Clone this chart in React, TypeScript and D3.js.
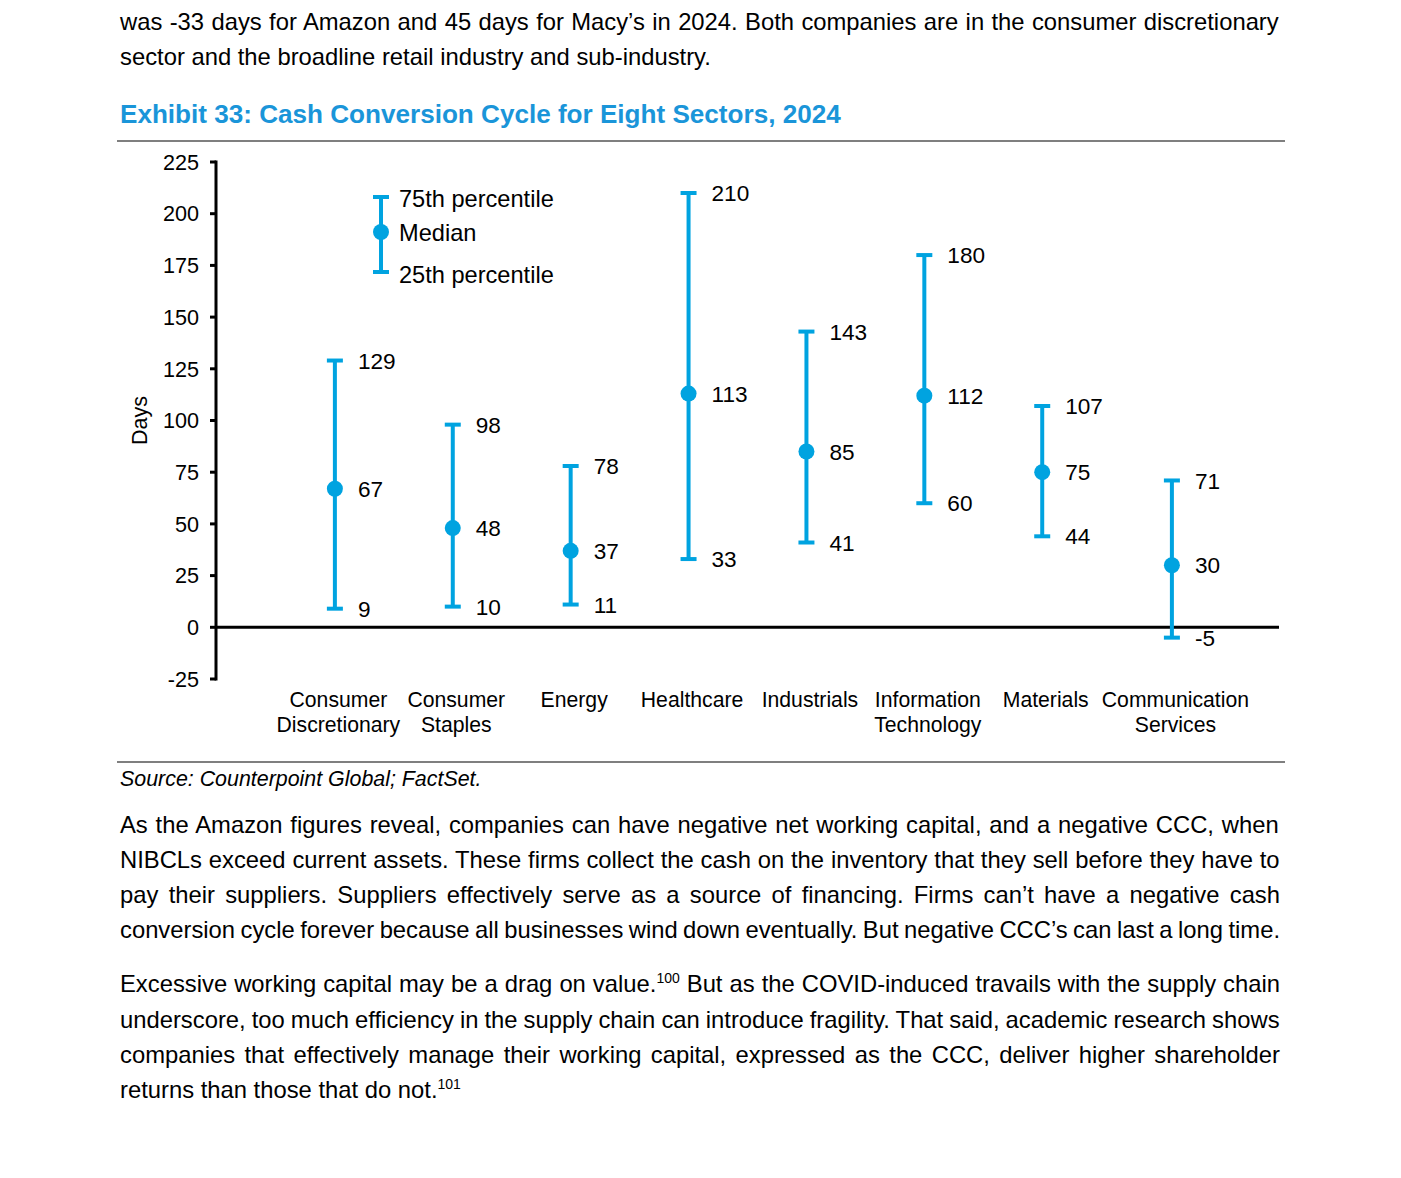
import React from "react";
import * as d3 from "d3";

const categories = [
  ["Consumer", "Discretionary"],
  ["Consumer", "Staples"],
  ["Energy"],
  ["Healthcare"],
  ["Industrials"],
  ["Information", "Technology"],
  ["Materials"],
  ["Communication", "Services"],
];
const xPositions = [1, 2, 3, 4, 5, 6, 7, 8.1];
const p75 = [129, 98, 78, 210, 143, 180, 107, 71];
const median = [67, 48, 37, 113, 85, 112, 75, 30];
const p25 = [9, 10, 11, 33, 41, 60, 44, -5];
const yTicks = [-25, 0, 25, 50, 75, 100, 125, 150, 175, 200, 225];

type Seg = { t: string; sup?: boolean };
type Line = { segs: Seg[]; y: number; justify: boolean };

const bodyLines: Line[] = [
  { segs: [{ t: "was -33 days for Amazon and 45 days for Macy’s in 2024. Both companies are in the consumer discretionary" }], y: 30, justify: true },
  { segs: [{ t: "sector and the broadline retail industry and sub-industry." }], y: 65, justify: false },
  { segs: [{ t: "As the Amazon figures reveal, companies can have negative net working capital, and a negative CCC, when" }], y: 833, justify: true },
  { segs: [{ t: "NIBCLs exceed current assets. These firms collect the cash on the inventory that they sell before they have to" }], y: 868, justify: true },
  { segs: [{ t: "pay their suppliers. Suppliers effectively serve as a source of financing. Firms can’t have a negative cash" }], y: 903, justify: true },
  { segs: [{ t: "conversion cycle forever because all businesses wind down eventually. But negative CCC’s can last a long time." }], y: 938, justify: true },
  { segs: [{ t: "Excessive working capital may be a drag on value." }, { t: "100", sup: true }, { t: " But as the COVID-induced travails with the supply chain" }], y: 992, justify: true },
  { segs: [{ t: "underscore, too much efficiency in the supply chain can introduce fragility. That said, academic research shows" }], y: 1028, justify: true },
  { segs: [{ t: "companies that effectively manage their working capital, expressed as the CCC, deliver higher shareholder" }], y: 1063, justify: true },
  { segs: [{ t: "returns than those that do not." }, { t: "101", sup: true }], y: 1098, justify: false },
];

const FONT = "'Liberation Sans', Arial, Helvetica, sans-serif";
const BLUE = "#00A3E0";
const TITLE_BLUE = "#1A95D9";
const BODY_SIZE = 23.8;
const SUP_SIZE = 14;
const LEFT = 120;
const RIGHT = 1280;

let ctx: CanvasRenderingContext2D | null = null;
function measure(text: string, size: number): number {
  if (!ctx) {
    const c = document.createElement("canvas");
    ctx = c.getContext("2d");
  }
  if (!ctx) return text.length * size * 0.5;
  ctx.font = `${size}px 'Liberation Sans', Arial, sans-serif`;
  return ctx.measureText(text).width;
}

function BodyLine({ line }: { line: Line }) {
  let wordSpacing = 0;
  if (line.justify) {
    const natural = line.segs.reduce((s, g) => s + measure(g.t, g.sup ? SUP_SIZE : BODY_SIZE), 0);
    const spaces = line.segs.reduce((s, g) => s + (g.t.match(/ /g) || []).length, 0);
    if (spaces > 0) wordSpacing = (RIGHT - LEFT - natural) / spaces;
  }
  return (
    <text x={LEFT} y={line.y} fontSize={BODY_SIZE} style={{ wordSpacing: `${wordSpacing}px`, whiteSpace: "pre" }} fill="#000">
      {line.segs.map((g, i) =>
        g.sup ? (
          <tspan key={i} fontSize={SUP_SIZE} dy={-9}>{g.t}</tspan>
        ) : (
          <tspan key={i} dy={i > 0 && line.segs[i - 1].sup ? 9 : 0}>{g.t}</tspan>
        )
      )}
    </text>
  );
}

export default function App() {
  const x = d3.scaleLinear().domain([0, 9]).range([217, 1278]);
  const y = d3.scaleLinear().domain([-25, 225]).range([679, 162]);
  const capHalf = 8;

  return (
    <svg
      width={1400}
      height={1170}
      style={{ position: "absolute", left: 0, top: 0, background: "#fff" }}
      fontFamily={FONT}
    >
      {bodyLines.map((l, i) => (
        <BodyLine key={i} line={l} />
      ))}

      <text x={120} y={123} fontSize={26.1} fontWeight="bold" fill={TITLE_BLUE}>
        Exhibit 33: Cash Conversion Cycle for Eight Sectors, 2024
      </text>
      <line x1={117} x2={1285} y1={141} y2={141} stroke="#555" strokeWidth={1.3} />
      <line x1={117} x2={1285} y1={762} y2={762} stroke="#555" strokeWidth={1.3} />
      <text x={120} y={786} fontSize={21.4} fontStyle="italic" fill="#000">
        Source: Counterpoint Global; FactSet.
      </text>

      {/* Y axis */}
      <line x1={216} x2={216} y1={y(225) - 1.5} y2={y(-25) + 1.5} stroke="#000" strokeWidth={3} />
      {yTicks.map((t) => (
        <g key={t}>
          <line x1={210} x2={216} y1={y(t)} y2={y(t)} stroke="#000" strokeWidth={3} />
          <text x={199} y={y(t)} dy="0.36em" textAnchor="end" fontSize={21.6} fill="#000">
            {t}
          </text>
        </g>
      ))}
      <text
        transform={`translate(139, ${y(100)}) rotate(-90)`}
        textAnchor="middle"
        dy="0.36em"
        fontSize={21.5}
        fill="#000"
      >
        Days
      </text>

      {/* zero line */}
      <line x1={216} x2={1279} y1={y(0)} y2={y(0)} stroke="#000" strokeWidth={3} />

      {/* error bars */}
      {categories.map((c, i) => {
        const cx = x(xPositions[i]);
        return (
          <g key={i}>
            <line x1={cx} x2={cx} y1={y(p75[i])} y2={y(p25[i])} stroke={BLUE} strokeWidth={4} />
            <line x1={cx - capHalf} x2={cx + capHalf} y1={y(p75[i])} y2={y(p75[i])} stroke={BLUE} strokeWidth={4} />
            <line x1={cx - capHalf} x2={cx + capHalf} y1={y(p25[i])} y2={y(p25[i])} stroke={BLUE} strokeWidth={4} />
            <circle cx={cx} cy={y(median[i])} r={8} fill={BLUE} />
            {[p75[i], median[i], p25[i]].map((v, k) => (
              <text key={k} x={cx + 23} y={y(v)} dy="0.36em" fontSize={22.6} fill="#000">
                {v}
              </text>
            ))}
            {c.map((ln, k) => (
              <text key={k} x={cx + 3.5} y={707 + k * 25} textAnchor="middle" fontSize={21.2} fill="#000">
                {ln}
              </text>
            ))}
          </g>
        );
      })}

      {/* legend */}
      <g>
        <line x1={381} x2={381} y1={197} y2={272} stroke={BLUE} strokeWidth={4} />
        <line x1={373} x2={389} y1={197} y2={197} stroke={BLUE} strokeWidth={4} />
        <line x1={373} x2={389} y1={272} y2={272} stroke={BLUE} strokeWidth={4} />
        <circle cx={381} cy={232} r={8} fill={BLUE} />
        <text x={399} y={199} dy="0.36em" fontSize={23.6} fill="#000">75th percentile</text>
        <text x={399} y={233} dy="0.36em" fontSize={23.6} fill="#000">Median</text>
        <text x={399} y={275} dy="0.36em" fontSize={23.6} fill="#000">25th percentile</text>
      </g>
    </svg>
  );
}
